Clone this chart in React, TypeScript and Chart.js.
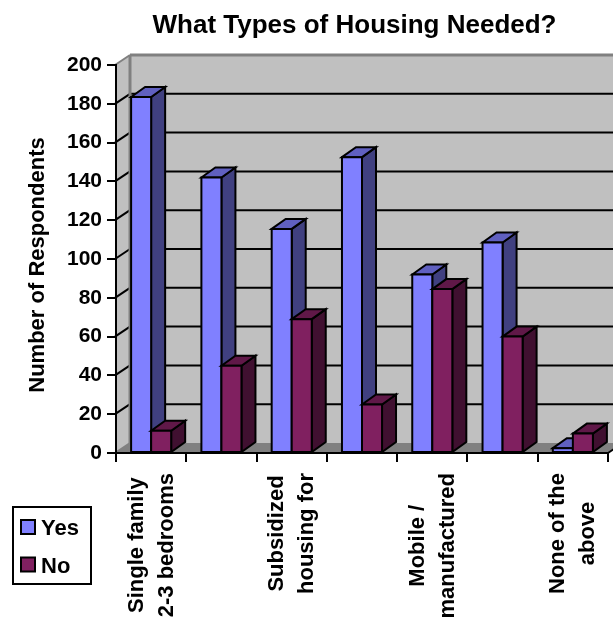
import React, { useEffect, useRef } from "react";
import { Chart, registerables } from "chart.js";

Chart.register(...registerables);

const categories: string[][] = [
  ["Single family", "2-3 bedrooms"],
  [""],
  ["Subsidized", "housing for"],
  [""],
  ["Mobile /", "manufactured"],
  [""],
  ["None of the", "above"],
];
const yesValues = [183.5, 142, 115.5, 152.5, 92, 108.5, 2.5];
const noValues = [11.5, 45, 69, 25, 84.5, 60, 10];
const chartTitle = "What Types of Housing Needed?";
const yTitle = "Number of Respondents";

const FONT = '"Liberation Sans", Arial, sans-serif';
const WALL = "#C0C0C0";
const FLOOR = "#808080";
const DX = 15;
const DY = 10;
const BAR_DX = 14;
const colors = [
  { front: "#8080FF", side: "#404080", top: "#6060C0" },
  { front: "#802060", side: "#401030", top: "#601848" },
];

function poly(ctx: CanvasRenderingContext2D, pts: number[][], fill: string | null, stroke: string | null, lw = 2) {
  ctx.beginPath();
  pts.forEach((p, i) => (i ? ctx.lineTo(p[0], p[1]) : ctx.moveTo(p[0], p[1])));
  ctx.closePath();
  if (fill) {
    ctx.fillStyle = fill;
    ctx.fill();
  }
  if (stroke) {
    ctx.strokeStyle = stroke;
    ctx.lineWidth = lw;
    ctx.lineJoin = "miter";
    ctx.stroke();
  }
}

function line(ctx: CanvasRenderingContext2D, a: number[], b: number[], color: string, lw = 2) {
  ctx.beginPath();
  ctx.moveTo(a[0], a[1]);
  ctx.lineTo(b[0], b[1]);
  ctx.strokeStyle = color;
  ctx.lineWidth = lw;
  ctx.stroke();
}

const scene3d = {
  id: "scene3d",
  beforeDraw(chart: any) {
    const { ctx, width, height } = chart;
    ctx.save();
    ctx.fillStyle = "#FFFFFF";
    ctx.fillRect(0, 0, width, height);
    const a = chart.chartArea;
    const L = a.left - 1;
    const yS = chart.scales.y;
    const top = yS.getPixelForValue(200);
    const bot = yS.getPixelForValue(0);
    const bx = L + DX;
    // back wall, side wall, floor
    poly(ctx, [[bx, top - DY], [width, top - DY], [width, bot - DY], [bx, bot - DY]], WALL, null);
    poly(ctx, [[L, top], [bx, top - DY], [bx, bot - DY], [L, bot]], WALL, null);
    poly(ctx, [[L, bot], [bx, bot - DY], [width, bot - DY], [a.right + DX, bot - DY], [a.right, bot]], FLOOR, null);
    // grid lines on the walls
    yS.ticks.forEach((t: any) => {
      const y = yS.getPixelForValue(t.value);
      if (t.value === 0 || t.value === 200) return;
      line(ctx, [L, y], [bx, y - DY], "#000000");
      line(ctx, [bx, y - DY], [width, y - DY], "#000000");
    });
    // wall borders
    line(ctx, [L, top], [bx, top - DY], FLOOR);
    line(ctx, [bx, top - DY], [width, top - DY], FLOOR, 3);
    line(ctx, [bx, top - DY], [bx, bot - DY], FLOOR, 3);
    line(ctx, [L, bot], [bx, bot - DY], FLOOR);
    // front floor edge on the right
    line(ctx, [a.right, bot], [a.right + DX, bot - DY], "#000000");
    ctx.restore();
  },
  afterDatasetsDraw(chart: any) {
    const { ctx } = chart;
    ctx.save();
    // Yes first, then No, so that each bar overlaps the depth of the one on its left
    chart.data.datasets.forEach((ds: any, i: number) => {
      const c = colors[i];
      chart.getDatasetMeta(i).data.forEach((el: any) => {
        const l = el.x - el.width / 2;
        const r = el.x + el.width / 2;
        poly(ctx, [[r, el.y], [r + BAR_DX, el.y - DY], [r + BAR_DX, el.base - DY], [r, el.base]], c.side, "#000000");
        poly(ctx, [[l, el.y], [l + BAR_DX, el.y - DY], [r + BAR_DX, el.y - DY], [r, el.y]], c.top, "#000000");
        poly(ctx, [[l, el.y], [r, el.y], [r, el.base], [l, el.base]], ds.backgroundColor, "#000000");
      });
    });
    ctx.restore();
  },
  afterDraw(chart: any) {
    const { ctx } = chart;
    ctx.save();
    ctx.fillStyle = "#000000";
    // chart title
    ctx.font = `bold 26px ${FONT}`;
    ctx.textAlign = "center";
    ctx.textBaseline = "alphabetic";
    ctx.fillText(chartTitle, 354.5, 33);
    // y axis title
    ctx.save();
    ctx.translate(44, 265);
    ctx.rotate(-Math.PI / 2);
    ctx.font = `bold 22px ${FONT}`;
    ctx.fillText(yTitle, 0, 0);
    ctx.restore();
    // category labels
    const xS = chart.scales.x;
    ctx.font = `bold 22px ${FONT}`;
    categories.forEach((lines, i) => {
      const cx = xS.getPixelForValue(i);
      const maxW = Math.max(...lines.map((t) => ctx.measureText(t).width));
      const cy = 473 + maxW / 2;
      lines.forEach((t, j) => {
        const dy = 6.5 + (j - (lines.length - 1) / 2) * 30;
        ctx.save();
        ctx.translate(cx, cy);
        ctx.rotate(-Math.PI / 2);
        ctx.fillText(t, 0, dy);
        ctx.restore();
      });
    });
    // legend
    ctx.fillStyle = "#FFFFFF";
    ctx.fillRect(13, 507, 78, 77);
    ctx.strokeStyle = "#000000";
    ctx.lineWidth = 2;
    ctx.strokeRect(13, 507, 78, 77);
    chart.data.datasets.forEach((ds: any, i: number) => {
      const y = 520 + i * 37.5;
      ctx.fillStyle = ds.backgroundColor;
      ctx.fillRect(21, y, 14, 14);
      ctx.strokeRect(21, y, 14, 14);
      ctx.fillStyle = "#000000";
      ctx.textAlign = "left";
      ctx.font = `bold 22px ${FONT}`;
      ctx.fillText(ds.label, 41, y + 15);
    });
    ctx.restore();
  },
};

export default function App() {
  const ref = useRef<HTMLCanvasElement>(null);
  useEffect(() => {
    document.body.style.margin = "0";
    const chart = new Chart(ref.current as HTMLCanvasElement, {
      type: "bar",
      data: {
        labels: categories as any,
        datasets: [
          { label: "Yes", data: yesValues, backgroundColor: colors[0].front, borderWidth: 0, barPercentage: 1, categoryPercentage: 0.57 },
          { label: "No", data: noValues, backgroundColor: colors[1].front, borderWidth: 0, barPercentage: 1, categoryPercentage: 0.57 },
        ],
      },
      options: {
        responsive: false,
        animation: false,
        layout: { padding: { left: 0, top: 65, right: 5, bottom: 0 } },
        plugins: { legend: { display: false }, title: { display: false }, tooltip: { enabled: false } },
        scales: {
          x: {
            offset: true,
            afterFit: (s: any) => {
              s.height = 165;
            },
            ticks: { display: false },
            grid: { offset: true, drawOnChartArea: false, color: "#000000", lineWidth: 2, tickLength: 9 },
            border: { color: "#000000", width: 2 },
          } as any,
          y: {
            min: 0,
            max: 200,
            afterFit: (s: any) => {
              s.width = 116;
            },
            ticks: {
              stepSize: 20,
              color: "#000000",
              padding: 5,
              font: { family: FONT, weight: "bold", size: 21 },
            },
            grid: { drawOnChartArea: false, color: "#000000", lineWidth: 2, tickLength: 9 },
            border: { color: "#000000", width: 2 },
          } as any,
        },
      },
      plugins: [scene3d],
    });
    return () => chart.destroy();
  }, []);
  return <canvas ref={ref} width={613} height={618} style={{ display: "block" }} />;
}
